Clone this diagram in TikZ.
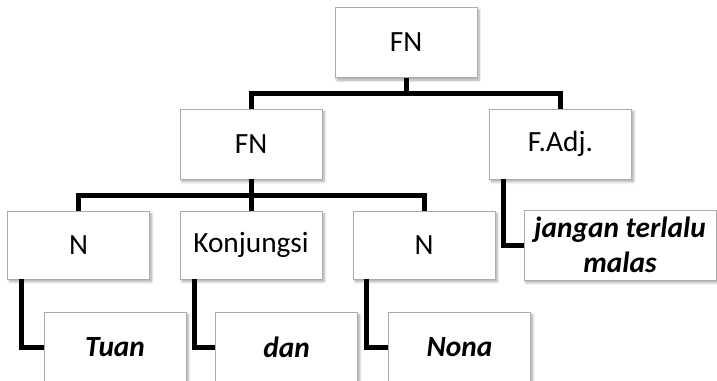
\documentclass[tikz,border=0pt]{standalone}
\usepackage{fontspec}
\setmainfont{Carlito}
\usetikzlibrary{shadows.blur}
\tikzset{
  box/.style={draw=gray!65, line width=.6pt, fill=white, minimum width=106.5pt,
    minimum height=52.5pt, inner sep=1pt, align=center,
    font=\fontsize{22}{26}\selectfont,
    blur shadow={shadow xshift=1.5pt, shadow yshift=-2pt, shadow blur steps=6, shadow opacity=35}},
  word/.style={box, font=\fontsize{22}{26}\selectfont\bfseries\itshape},
  edge/.style={line width=3.75pt, black},
}
\begin{document}
\begin{tikzpicture}[x=.75pt, y=-.75pt]
\useasboundingbox (0,0) rectangle (717,381);
\node[box] (fn0) at (406,42.5) {FN};
\node[box] (fn1) at (251,144) {FN};
\node[box] (fadj) at (560.5,144) {F.Adj.};
\node[box, minimum height=51pt] (n1) at (78.5,245) {N};
\node[box, minimum height=51pt] (konj) at (251,245) {Konjungsi};
\node[box, minimum height=51pt] (n2) at (424,245) {N};
\node[word, minimum width=144pt] (jangan) at (620,245) {jangan terlalu\\malas};
\node[word] (tuan) at (115,347) {Tuan};
\node[word] (dan) at (286.5,347) {dan};
\node[word] (nona) at (459.5,347) {Nona};

\draw[edge] (fn0.south) -- ++(0,15.5) coordinate (j0);
\draw[edge] (fn1.north) |- (j0) -| (fadj.north);
\draw[edge] (fn1.south) -- ++(0,16) coordinate (j1);
\draw[edge] (n1.north) |- (j1) -| (n2.north);
\draw[edge] (j1) -- (konj.north);

\draw[edge] ([xshift=11pt]n1.south west) |- (tuan.west);
\draw[edge] ([xshift=11pt]konj.south west) |- (dan.west);
\draw[edge] ([xshift=10.5pt]n2.south west) |- (nona.west);
\draw[edge] ([xshift=10.5pt]fadj.south west) |- (jangan.west);
\end{tikzpicture}
\end{document}
